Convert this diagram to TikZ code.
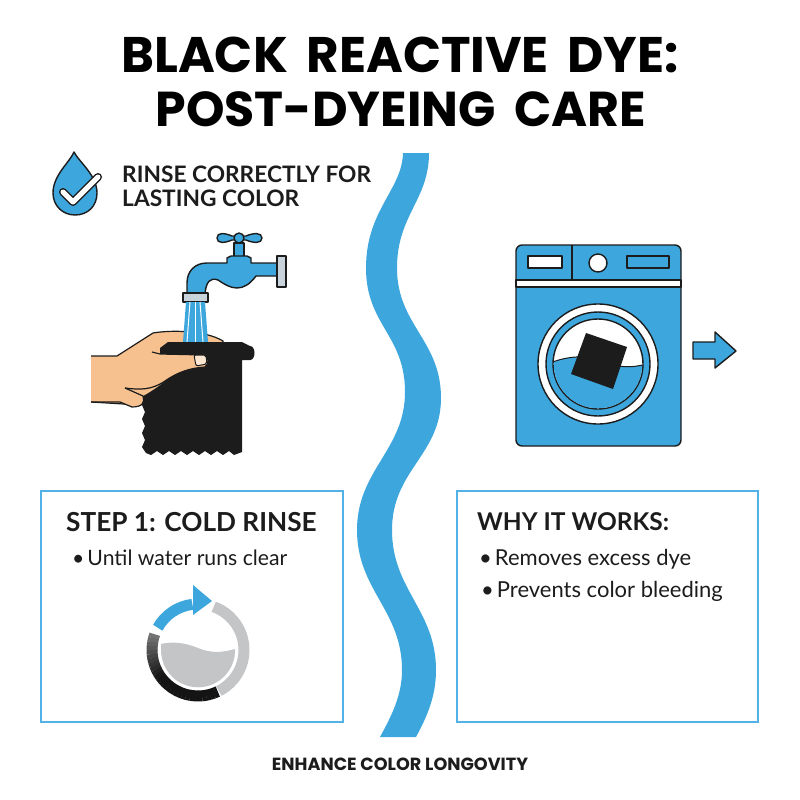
\documentclass[tikz,border=0pt]{standalone}
\usepackage{fontspec}
\setmainfont{Lato}
\newfontfamily\titlefont{Poppins}
\definecolor{dyeblue}{HTML}{3DA6DC}
\definecolor{panelblue}{HTML}{52B1E6}
\definecolor{inkblack}{HTML}{1C1C1C}
\definecolor{skintone}{HTML}{F6C18F}
\definecolor{steelgrey}{HTML}{C9D3DC}
\definecolor{ringgrey}{HTML}{C4C5C6}
\newcommand{\titlegap}{\hspace{8pt} }
\tikzset{
	titletext/.style={font=\titlefont\bfseries\fontsize{50}{54}\selectfont,text=black,inner sep=0pt,anchor=base},
	subtext/.style={font=\bfseries\fontsize{22.7}{26}\selectfont,text=inkblack,anchor=west,inner sep=0pt},
	headtext/.style={font=\bfseries\fontsize{24.5}{30}\selectfont,text=inkblack,anchor=west,inner sep=0pt},
	bullettext/.style={font=\fontsize{22}{26}\selectfont,text=inkblack,anchor=west,inner sep=0pt},
	panelbox/.style={draw=panelblue,line width=1.6pt},
	iconline/.style={draw=inkblack,line width=1.4pt,line join=round},
}
\begin{document}
\begin{tikzpicture}[x=1pt,y=-1pt]
	\useasboundingbox (0,0) rectangle (800,800);
	\node[titletext] (titleone) at (400,72) {BLACK\titlegap REACTIVE\titlegap DYE:};
	\node[titletext,font=\titlefont\bfseries\fontsize{49}{54}\selectfont] (titletwo) at (401,126) {POST-DYEING\titlegap CARE};

	\fill[dyeblue] (403,153) .. controls (402,190) and (366,210) .. (366,268)
		.. controls (366,325) and (405,335) .. (405,392)
		.. controls (405,450) and (357,470) .. (357,530)
		.. controls (357,590) and (402,610) .. (402,670)
		.. controls (402,695) and (392,715) .. (380,737)
		-- (416,737) .. controls (428,715) and (436,695) .. (436,670)
		.. controls (436,610) and (392,590) .. (392,530)
		.. controls (392,470) and (441,455) .. (441,398)
		.. controls (441,340) and (397,325) .. (397,268)
		.. controls (397,215) and (429,200) .. (429,153) -- cycle;

	\draw[iconline,fill=dyeblue] (74,152) .. controls (70,162) and (53,175) .. (53,193) .. controls (53,206) and (63,215) .. (75,215) .. controls (88,215) and (97,206) .. (97,193) .. controls (97,175) and (79,162) .. (74,152) -- cycle;
	\draw[line width=8pt,inkblack,line cap=round,line join=round] (63,192) -- (73,202) -- (98,177);
	\draw[line width=5pt,white,line cap=round,line join=round] (63,192) -- (73,202) -- (98,177);
	\node[subtext] (rinseone) at (122,174) {RINSE CORRECTLY FOR};
	\node[subtext] (rinsetwo) at (122,198) {LASTING COLOR};

	\draw[iconline,fill=dyeblue] (234,243) rectangle (244,257);
	\draw[iconline,fill=dyeblue] (232,236) .. controls (225,233) and (217,232) .. (217,238) .. controls (217,244) and (225,243) .. (232,240) -- (246,240) .. controls (253,243) and (262,244) .. (262,238) .. controls (262,232) and (253,233) .. (246,236) -- cycle;
	\draw[iconline,fill=dyeblue] (239,238) circle (5);
	\draw[iconline,fill=dyeblue] (187,294) -- (187,283) .. controls (187,271) and (195,263) .. (207,263) -- (227,263) -- (227,258) -- (231,256) -- (247,256) -- (251,258) -- (251,263) -- (278,263) -- (278,276) -- (256,276) .. controls (250,284) and (244,288) .. (237,288) .. controls (230,288) and (224,284) .. (218,280) .. controls (210,277) and (206,282) .. (205,294) -- cycle;
	\draw[iconline,fill=steelgrey] (277,256) rectangle (286,287);
	\draw[iconline,fill=steelgrey] (183,293) rectangle (208,302);

	\draw[line width=1.2pt,inkblack,fill=skintone] (91,356) -- (117,356) -- (153,333) .. controls (170,330) and (205,330) .. (223,341) -- (223,365) -- (140,405) -- (91,402);
	\fill[dyeblue] (186,302) -- (205,302) -- (208,342) -- (183,342) -- cycle;
	\foreach \topx/\lowx in {190/187,195/195,200/203}
		\draw[white,line width=1pt] (\topx,302) -- (\lowx,342);

	\fill[inkblack] (168,342) -- (242,342) -- (250,346) .. controls (256,346) and (256,360) .. (250,360) -- (242,360) -- (242,452)
		-- (234,455) -- (229,451) -- (223,455) -- (217,451) -- (211,455) -- (205,451) -- (199,455) -- (193,451) -- (187,455) -- (181,451) -- (175,455) -- (169,451) -- (163,455) -- (157,451) -- (151,455) -- (146,453)
		-- (142,447) -- (145,440) -- (142,433) -- (145,426) -- (142,419) -- (145,412) -- (142,405) -- (142,390) -- (160,353) -- (160,348) -- cycle;

	\fill[skintone] (91,358) -- (117,357) -- (150,351) -- (160,354) -- (205,355) .. controls (209,357) and (209,364) .. (205,367) .. controls (190,368) and (178,372) .. (165,381) .. controls (158,387) and (150,392) .. (143,396) .. controls (145,402) and (143,407) .. (132,407) -- (120,402) -- (91,401) -- cycle;
	\draw[line width=1.2pt,inkblack] (152,352) -- (160,354) -- (205,355) .. controls (209,357) and (209,364) .. (205,367) .. controls (190,368) and (178,372) .. (165,381) .. controls (152,390) and (140,390) .. (125,388);
	\draw[line width=1.2pt,inkblack] (125,388) -- (143,396) .. controls (145,402) and (143,407) .. (132,407) -- (120,402) -- (91,402);
	\draw[line width=1pt,inkblack,fill=white!60!skintone,rounded corners=2pt] (194,355) -- (206,355) -- (207,364) -- (196,366) -- cycle;

	\draw[iconline,fill=dyeblue,rounded corners=6pt] (516,245) rectangle (681,446);
	\draw[iconline,fill=white] (516,280) rectangle (681,287);
	\draw[iconline] (572,245) -- (572,280);
	\draw[iconline,fill=white] (528,256) rectangle (562,268);
	\draw[iconline,fill=white] (598,263) circle (9);
	\draw[iconline,fill=dyeblue] (627,256) rectangle (669,268);
	\draw[iconline,fill=white] (598,364) circle (60);
	\draw[iconline,fill=dyeblue] (598,364) circle (52);
	\draw[iconline,fill=white] (598,364) circle (45);
	\begin{scope}
		\clip (598,364) circle (44.3);
		\fill[dyeblue] (550,363) .. controls (570,355) and (590,355) .. (605,362) .. controls (620,368) and (632,368) .. (646,364) -- (646,412) -- (550,412) -- cycle;
		\draw[line width=1pt,inkblack] (550,363) .. controls (570,355) and (590,355) .. (605,362) .. controls (620,368) and (632,368) .. (646,364);
	\end{scope}
	\fill[inkblack] (586,333) -- (627,347) -- (613,389) -- (571,374) -- cycle;

	\draw[iconline,fill=dyeblue] (693,342) -- (715,342) -- (715,332) -- (736,351) -- (715,368) -- (715,359) -- (693,359) -- cycle;

	\draw[panelbox] (41,491) rectangle (343,722);
	\draw[panelbox] (457,491) rectangle (758,722);
	\node[headtext,font=\bfseries\fontsize{26.2}{30}\selectfont] (stephead) at (66,522) {STEP 1: COLD RINSE};
	\node[bullettext,font=\fontsize{21.2}{26}\selectfont] (stepitem) at (72,558) {\textbullet\hspace{3pt}Until water runs clear};
	\node[headtext] (whyhead) at (477,522) {WHY IT WORKS:};
	\node[bullettext] (whyone) at (479,559) {\textbullet\hspace{3pt}Removes excess dye};
	\node[bullettext] (whytwo) at (481,591) {\textbullet\hspace{3pt}Prevents color bleeding};

	\begin{scope}[shift={(198,650)},y=1pt]
		\draw[ringgrey,line width=11pt] (70:46) arc[start angle=70,end angle=-63,radius=46];
		\foreach \ang in {160,165,...,290} {
			\pgfmathsetmacro\shadeval{min(92,55+(\ang-160)*0.7)}
			\draw[black!\shadeval,line width=11pt] (\ang:46) arc[start angle=\ang,end angle=\ang+5.5,radius=46];
		}
		\draw[dyeblue,line width=11pt] (151:46) arc[start angle=151,end angle=97,radius=46];
		\fill[dyeblue] (-5,65) -- (14,49) -- (-5,35) -- cycle;
		\fill[ringgrey] (-37,6) .. controls (-25,9) and (-12,7) .. (0,2) .. controls (14,-4) and (26,-2) .. (37,1) arc[start angle=2,end angle=-182,radius=37] -- cycle;
	\end{scope}

	\node[font=\titlefont\bfseries\fontsize{17.6}{20}\selectfont,text=inkblack,inner sep=0pt] (bottomline) at (400,764) {ENHANCE COLOR LONGOVITY};
\end{tikzpicture}
\end{document}
